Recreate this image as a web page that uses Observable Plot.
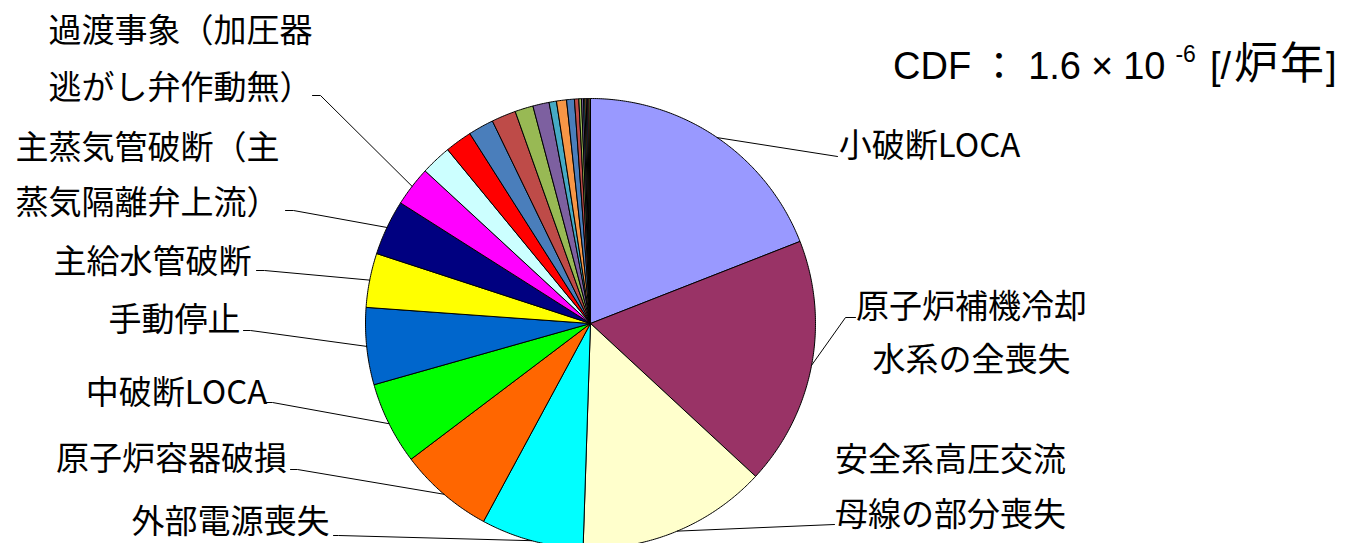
<!DOCTYPE html>
<html>
<head>
<meta charset="utf-8">
<script src="https://cdn.jsdelivr.net/npm/d3@7"></script>
<script src="https://cdn.jsdelivr.net/npm/@observablehq/plot@0.6"></script>
<style>
  html, body { margin: 0; padding: 0; background: #fff; }
  #wrap { position: relative; width: 1345px; height: 543px; overflow: hidden; }
  #title {
    position: absolute; left: 893px; top: 38px;
    font-family: "Liberation Sans", Arial, sans-serif;
    font-size: 38px; line-height: 1; color: #000; white-space: nowrap;
  }
  #title .colon { font-family: "Noto Sans CJK JP", sans-serif; margin: 0 10px 0 9px; }
  #title .times { margin: 0 10px; }
  #title .slash { margin-right: 3px; }
  #title .cjk { font-family: "Noto Sans CJK JP", sans-serif; font-size: 44px; letter-spacing: 2px; }
  #title sup { font-size: 23px; position: relative; top: -3px; vertical-align: super; line-height: 0; margin: 0 14px 0 10px; }
</style>
</head>
<body>
<div id="wrap">
  <div id="chart"></div>
  <div id="title">CDF<span class="colon">：</span>1.6<span class="times">×</span>10<sup>-6</sup>[<span class="slash">/</span><span class="cjk">炉年</span>]</div>
</div>
<script>
// ---- data (share of CDF, %) clockwise from 12 o'clock ----
const categories = [
  "小破断LOCA",
  "原子炉補機冷却\n水系の全喪失",
  "安全系高圧交流\n母線の部分喪失",
  "外部電源喪失",
  "原子炉容器破損",
  "中破断LOCA",
  "手動停止",
  "主給水管破断",
  "主蒸気管破断（主\n蒸気隔離弁上流）",
  "過渡事象（加圧器\n逃がし弁作動無）",
  "その他1", "その他2", "その他3", "その他4", "その他5", "その他6",
  "その他7", "その他8", "その他9", "その他10", "その他11", "その他12",
  "その他13", "その他14", "その他15", "その他16", "その他17"
];
const shares = [
  19.06, 17.83, 13.64, 7.36, 6.81, 5.92, 5.53, 3.89, 3.97, 2.86,
  2.19, 1.94, 1.83, 1.75, 1.31, 1.17,
  0.53, 0.72, 0.56, 0.31, 0.19, 0.14,
  0.10, 0.10, 0.10, 0.10, 0.10
];
const colors = [
  "#9999FF", "#993366", "#FFFFCC", "#00FFFF", "#FF6600", "#00FF00",
  "#0066CC", "#FFFF00", "#000080", "#FF00FF", "#CCFFFF", "#FF0000",
  "#4A7EBB", "#BE4B48", "#98B954", "#7D60A0", "#46AAC5", "#F79646",
  "#4A7EBB", "#BE4B48", "#98B954", "#7D60A0", "#46AAC5", "#F79646",
  "#4A7EBB", "#BE4B48", "#98B954"
];

// ---- layout (pixels) ----
const W = 1345, H = 543;
const cx = 590, cy = 323, R = 225;
// label blocks: category index, block centre x, first-line y, line spacing, leader anchor points
const labelLayout = [
  {i: 0, x: 929, y: 146, dy: 0,  leader: [[837, 156]]},
  {i: 1, x: 971, y: 307, dy: 53, leader: [[855, 317], [845, 317]]},
  {i: 2, x: 950, y: 460, dy: 55, leader: [[834, 524]]},
  {i: 3, x: 230, y: 522, dy: 0,  leader: [[333, 535], [338, 535]]},
  {i: 4, x: 171, y: 459, dy: 0,  leader: [[290, 469], [297, 469]]},
  {i: 5, x: 176, y: 393, dy: 0,  leader: [[265, 402], [272, 402]]},
  {i: 6, x: 174, y: 320, dy: 0,  leader: [[243, 330], [250, 330]]},
  {i: 7, x: 152, y: 262, dy: 0,  leader: [[256, 270], [264, 270]]},
  {i: 8, x: 147, y: 148, dy: 55, leader: [[285, 210], [293, 210]]},
  {i: 9, x: 180, y: 31,  dy: 57, leader: [[312, 95], [320, 95]]}
];

const data = categories.map((name, k) => ({name, value: shares[k]}));
const arcs = d3.pie().sort(null).value(d => d.value)(data);

const pt = a => ({x: cx + R * Math.sin(a), y: cy - R * Math.cos(a)});

// slice polygons: centre -> arc -> centre
const poly = [];
arcs.forEach(a => {
  const name = a.data.name;
  poly.push({name, x: cx, y: cy});
  const n = Math.max(2, Math.ceil((a.endAngle - a.startAngle) / (Math.PI / 360)));
  for (let j = 0; j <= n; j++) {
    const t = a.startAngle + (a.endAngle - a.startAngle) * j / n;
    poly.push({name, ...pt(t)});
  }
  poly.push({name, x: cx, y: cy});
});

// leader lines from label to slice midpoint on the rim
const leaders = [];
labelLayout.forEach(L => {
  const a = arcs[L.i];
  const mid = pt((a.startAngle + a.endAngle) / 2);
  L.leader.forEach(p => leaders.push({k: L.i, x: p[0], y: p[1]}));
  leaders.push({k: L.i, x: mid.x, y: mid.y});
});

// label text lines
const labelLines = [];
labelLayout.forEach(L => {
  categories[L.i].split("\n").forEach((s, j) => {
    labelLines.push({text: s, x: L.x, y: L.y + j * L.dy});
  });
});

const chart = Plot.plot({
  width: W, height: H,
  margin: 0,
  x: {domain: [0, W], range: [0, W], axis: null},
  y: {domain: [0, H], range: [0, H], axis: null},
  color: {domain: categories, range: colors, type: "ordinal"},
  style: {background: "#fff", overflow: "visible"},
  marks: [
    Plot.line(poly, {x: "x", y: "y", z: "name", fill: "name", stroke: "#000", strokeWidth: 1, strokeLinejoin: "round"}),
    Plot.line(leaders, {x: "x", y: "y", z: "k", stroke: "#000", strokeWidth: 1}),
    Plot.text(labelLines, {x: "x", y: "y", text: "text", fontSize: 33, fontFamily: "Noto Sans CJK JP", fill: "#000", textAnchor: "middle"})
  ]
});
document.getElementById("chart").appendChild(chart);
</script>
</body>
</html>
